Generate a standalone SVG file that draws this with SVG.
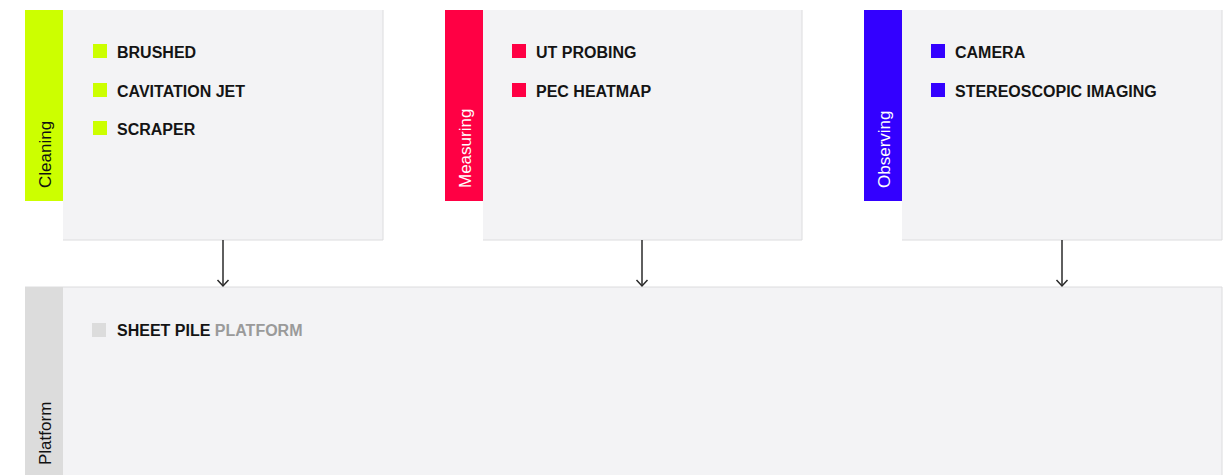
<svg xmlns="http://www.w3.org/2000/svg" width="1229" height="475" viewBox="0 0 1229 475">
  <defs>
    <style>
      .card { fill: #f3f3f5; }
      .edge { stroke: #dcdcde; stroke-width: 1; fill: none; }
      .tab-label { font-family: "Liberation Sans", Arial, sans-serif; font-size: 17px; }
      .item { font-family: "Liberation Sans", Arial, sans-serif; font-size: 16px; font-weight: bold; fill: #141414; }
      .muted { fill: #9a9a9a; }
      .conn { stroke: #2a2a2a; stroke-width: 1.5; fill: none; }
    </style>
    <!-- open chevron head; marker x-axis follows the line direction -->
    <marker id="chevron" markerWidth="10" markerHeight="14" refX="8" refY="7" orient="auto" markerUnits="userSpaceOnUse" viewBox="0 0 10 14">
      <path d="M2 1.5 L8 7 L2 12.5" fill="none" stroke="#2a2a2a" stroke-width="1.5"/>
    </marker>
  </defs>

  <!-- Cleaning group -->
  <g id="cleaning">
    <rect class="card" x="63" y="10" width="320" height="230"/>
    <path class="edge" d="M383 10 V240 H63"/>
    <rect x="25" y="10" width="38" height="191" fill="#ccff00"/>
    <text class="tab-label" fill="#111" transform="translate(51,188) rotate(-90)">Cleaning</text>
    <rect x="93" y="44" width="14" height="14" fill="#ccff00"/>
    <text class="item" x="117" y="58">BRUSHED</text>
    <rect x="93" y="83" width="14" height="14" fill="#ccff00"/>
    <text class="item" x="117" y="97">CAVITATION JET</text>
    <rect x="93" y="121" width="14" height="14" fill="#ccff00"/>
    <text class="item" x="117" y="135">SCRAPER</text>
  </g>

  <!-- Measuring group -->
  <g id="measuring">
    <rect class="card" x="483" y="10" width="319" height="230"/>
    <path class="edge" d="M802 10 V240 H483"/>
    <rect x="445" y="10" width="38" height="191" fill="#ff0044"/>
    <text class="tab-label" fill="#fff" transform="translate(471,188) rotate(-90)">Measuring</text>
    <rect x="512" y="44" width="14" height="14" fill="#ff0044"/>
    <text class="item" x="536" y="58">UT PROBING</text>
    <rect x="512" y="83" width="14" height="14" fill="#ff0044"/>
    <text class="item" x="536" y="97">PEC HEATMAP</text>
  </g>

  <!-- Observing group -->
  <g id="observing">
    <rect class="card" x="902" y="10" width="320" height="230"/>
    <path class="edge" d="M1222 10 V240 H902"/>
    <rect x="864" y="10" width="38" height="191" fill="#3300ff"/>
    <text class="tab-label" fill="#fff" transform="translate(890,188) rotate(-90)">Observing</text>
    <rect x="931" y="44" width="14" height="14" fill="#3300ff"/>
    <text class="item" x="955" y="58">CAMERA</text>
    <rect x="931" y="83" width="14" height="14" fill="#3300ff"/>
    <text class="item" x="955" y="97">STEREOSCOPIC IMAGING</text>
  </g>

  <!-- Platform group -->
  <g id="platform">
    <rect class="card" x="63" y="287" width="1159" height="200"/>
    <path class="edge" d="M25 287 H1222 V487"/>
    <rect x="25" y="287" width="38" height="200" fill="#dcdcdc"/>
    <text class="tab-label" fill="#111" transform="translate(51,465) rotate(-90)">Platform</text>
    <rect x="92" y="323" width="14" height="14" fill="#dcdcdc"/>
    <text class="item" x="117" y="336">SHEET PILE <tspan class="muted">PLATFORM</tspan></text>
  </g>

  <!-- Connectors -->
  <g id="connectors">
    <line class="conn" x1="223" y1="240" x2="223" y2="286" marker-end="url(#chevron)"/>
    <line class="conn" x1="642" y1="240" x2="642" y2="286" marker-end="url(#chevron)"/>
    <line class="conn" x1="1062" y1="240" x2="1062" y2="286" marker-end="url(#chevron)"/>
  </g>
</svg>
